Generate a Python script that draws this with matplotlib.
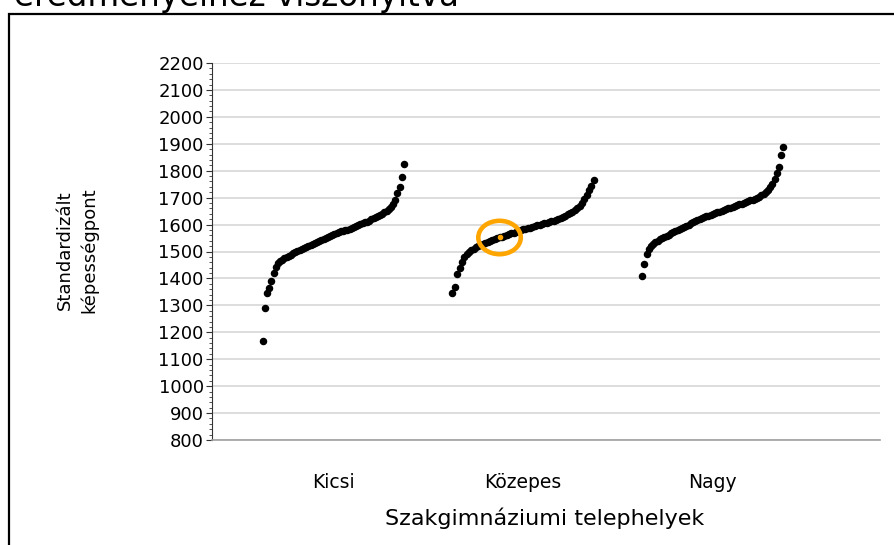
import numpy as np
import matplotlib
matplotlib.use("Agg")
import matplotlib.pyplot as plt
from matplotlib.patches import Ellipse, Rectangle

categories = ["Kicsi", "Közepes", "Nagy"]

# sorted standardised scores per school size
kicsi = [1168, 1290, 1345, 1365, 1392, 1420, 1442, 1456, 1464, 1470,
         1476, 1480, 1484, 1488, 1493, 1498, 1502, 1506, 1510, 1514,
         1518, 1521, 1525, 1529, 1532, 1536, 1540, 1543, 1547, 1551,
         1555, 1558, 1562, 1565, 1569, 1572, 1575, 1577, 1578, 1580,
         1583, 1586, 1590, 1594, 1598, 1601, 1604, 1608, 1611, 1615,
         1619, 1623, 1627, 1631, 1635, 1640, 1646, 1652, 1659, 1667,
         1678, 1692, 1716, 1740, 1778, 1825]
kozepes = [1345, 1370, 1415, 1440, 1462, 1478, 1490, 1499, 1505, 1510,
           1515, 1520, 1524, 1528, 1532, 1536, 1540, 1543, 1546, 1549,
           1552, 1555, 1558, 1561, 1564, 1567, 1570, 1573, 1576, 1579,
           1582, 1584, 1587, 1589, 1592, 1594, 1597, 1599, 1602, 1604,
           1607, 1609, 1612, 1615, 1618, 1621, 1625, 1629, 1633, 1638,
           1643, 1648, 1654, 1661, 1669, 1680, 1694, 1708, 1728, 1745,
           1764]
nagy = [1409, 1453, 1491, 1510, 1520, 1528, 1535, 1540, 1545, 1550,
        1555, 1559, 1563, 1567, 1571, 1575, 1580, 1584, 1588, 1592,
        1596, 1600, 1604, 1608, 1612, 1616, 1620, 1623, 1627, 1630,
        1633, 1636, 1639, 1642, 1645, 1648, 1651, 1654, 1657, 1660,
        1663, 1666, 1669, 1672, 1675, 1678, 1681, 1684, 1687, 1690,
        1693, 1696, 1700, 1704, 1709, 1715, 1722, 1730, 1740, 1752,
        1768, 1790, 1815, 1860, 1888]
groups = [kicsi, kozepes, nagy]
highlight_group = 1
highlight_idx = 20

y_ticks = np.arange(800, 2201, 100)

plt.rcParams["font.family"] = ["DejaVu Sans"]

fig = plt.figure(figsize=(8.94, 5.45), dpi=100)
ax = fig.add_axes([212 / 894, 1 - 440 / 545, 668 / 894, 377 / 545])

half = 0.372
for k, vals in enumerate(groups):
    xs = np.linspace(k + 1 - half, k + 1 + half, len(vals))
    ax.plot(xs, vals, "o", color="black", ms=4.4, mec="black", linestyle="none", zorder=3)
    if k == highlight_group:
        hx, hy = xs[highlight_idx], vals[highlight_idx]

# orange highlight
ax.plot(hx, hy, "o", color="#FFA500", ms=3, zorder=5)
ax.add_patch(Ellipse((hx, hy), 0.224, 124, fill=False, edgecolor="#FFA500", lw=3.3, zorder=4))

ax.set_xlim(0.3606, 3.881)
ax.set_ylim(800, 2200)
ax.set_yticks(y_ticks)
ax.set_yticks(np.arange(800, 2201, 20), minor=True)
ax.yaxis.grid(True, color="#d3d3d3", lw=1.1)
ax.set_axisbelow(True)

ax.set_xticks([1, 2, 3], categories)
ax.tick_params(axis="x", length=0, pad=24, labelsize=13.5)
ax.tick_params(axis="y", which="major", length=4, width=0.8, color="#333333", labelsize=13, pad=2)
ax.tick_params(axis="y", which="minor", length=2.5, width=0.6, color="#333333")

for s in ["top", "right"]:
    ax.spines[s].set_visible(False)
ax.spines["left"].set_color("#333333")
ax.spines["bottom"].set_color("#a0a0a0")
ax.spines["bottom"].set_linewidth(1.2)

fig.text(77 / 894, 1 - 250 / 545, "Standardizált\nképességpont", rotation=90,
         ha="center", va="center", fontsize=13, linespacing=1.45, multialignment="center")
fig.text(545 / 894, 1 - 518 / 545, "Szakgimnáziumi telephelyek", ha="center", va="center", fontsize=16)

# title, cut off at the top edge as in the source
fig.text(14 / 894, 1 - 6 / 545, "eredményeihez viszonyítva", ha="left", va="baseline", fontsize=23.5)

# outer frame
fig.add_artist(Rectangle((9 / 894, -0.1), 2, 1.1 - 14 / 545, transform=fig.transFigure,
                         fill=False, edgecolor="black", lw=1.6, clip_on=False))

fig.savefig("out.png", dpi=100)
